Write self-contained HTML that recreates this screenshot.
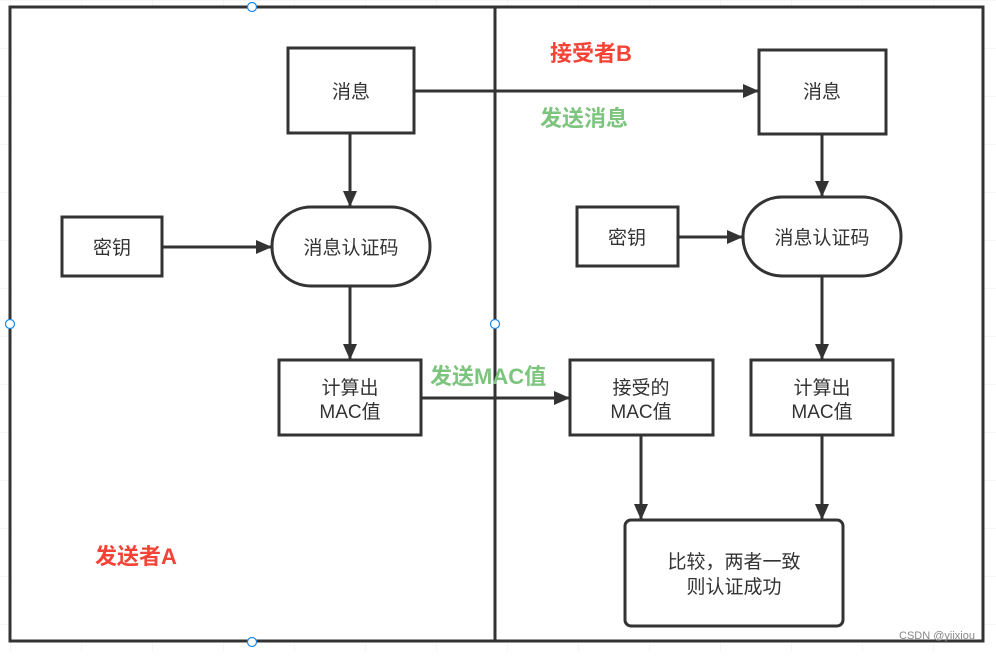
<!DOCTYPE html>
<html><head><meta charset="utf-8"><style>
body{margin:0;width:996px;height:652px;overflow:hidden;background:#fff}
text{font-family:"Liberation Sans","Noto Sans CJK SC",sans-serif}
</style></head><body>
<svg width="996" height="652" xmlns="http://www.w3.org/2000/svg">
<defs>
<pattern id="g" width="71" height="48" patternUnits="userSpaceOnUse" x="10" y="0">
<path d="M0 0V48M0 0H71" stroke="#eee" stroke-width="1" fill="none"/></pattern>
<marker id="a" markerWidth="16" markerHeight="14" refX="15" refY="7" orient="auto" markerUnits="userSpaceOnUse">
<path d="M0 0L16 7L0 14z" fill="#333"/></marker>
</defs>
<rect width="996" height="652" fill="url(#g)"/>
<rect x="10" y="7" width="973" height="634" fill="#fff" stroke="#333" stroke-width="3"/>
<line x1="495" y1="7" x2="495" y2="641" stroke="#333" stroke-width="3"/>
<g fill="none" stroke="#333" stroke-width="3">
<rect x="288" y="48" width="126" height="85"/>
<rect x="272" y="207" width="158" height="79" rx="39"/>
<rect x="62" y="217" width="100" height="59"/>
<rect x="279" y="360" width="142" height="75"/>
<rect x="570" y="360" width="143" height="75"/>
<rect x="751" y="360" width="142" height="75"/>
<rect x="759" y="50" width="127" height="84"/>
<rect x="743" y="197" width="158" height="79" rx="39"/>
<rect x="577" y="207" width="101" height="59"/>
<rect x="625" y="520" width="218" height="106" rx="6"/>
</g>
<g stroke="#333" stroke-width="3" marker-end="url(#a)">
<line x1="350" y1="133" x2="350" y2="206"/>
<line x1="162" y1="247" x2="271" y2="247"/>
<line x1="350" y1="286" x2="350" y2="359"/>
<line x1="421" y1="398" x2="569" y2="398"/>
<line x1="414" y1="91" x2="758" y2="91"/>
<line x1="822" y1="134" x2="822" y2="196"/>
<line x1="678" y1="237" x2="742" y2="237"/>
<line x1="822" y1="276" x2="822" y2="359"/>
<line x1="641" y1="435" x2="641" y2="519"/>
<line x1="822" y1="435" x2="822" y2="519"/>
</g>
<g fill="#fff" stroke="#1e88e5" stroke-width="1.2">
<circle cx="252" cy="7" r="4.5"/><circle cx="10" cy="324" r="4.5"/><circle cx="495" cy="324" r="4.5"/><circle cx="252" cy="642" r="4.5"/>
</g>
<g font-size="19" fill="#333" text-anchor="middle">
<text x="351" y="98">消息</text>
<text x="351" y="254">消息认证码</text>
<text x="112" y="254">密钥</text>
<text x="350" y="394">计算出</text><text x="350" y="418">MAC值</text>
<text x="641" y="394">接受的</text><text x="641" y="418">MAC值</text>
<text x="822" y="394">计算出</text><text x="822" y="418">MAC值</text>
<text x="822" y="98">消息</text>
<text x="822" y="244">消息认证码</text>
<text x="627" y="244">密钥</text>
<text x="734" y="568">比较，两者一致</text>
<text x="734" y="593">则认证成功</text>
</g>
<g font-size="22" font-weight="bold">
<text x="550" y="61" fill="#f44336">接受者B</text>
<text x="95" y="564" fill="#f44336">发送者A</text>
<text x="540" y="126" fill="#7dc57f">发送消息</text>
<text x="430" y="384" fill="#7dc57f">发送MAC值</text>
</g>
<text x="899" y="639" font-size="11" fill="#888">CSDN @yiixiou</text>
</svg>
</body></html>
